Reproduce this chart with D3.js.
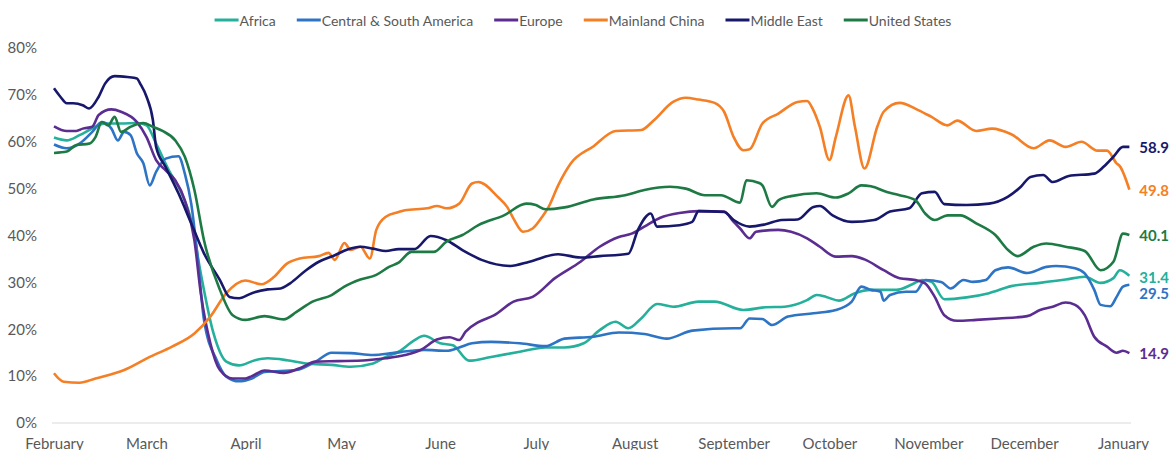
<!DOCTYPE html>
<html>
<head>
<meta charset="utf-8">
<script src="https://cdn.jsdelivr.net/npm/d3@7"></script>
<style>
  body { margin: 0; background: #fff; }
  svg text { font-family: Lato, "Open Sans", sans-serif; }
</style>
</head>
<body>
<div id="chart"></div>
<script>
// Regions, colours and axis labels
const regions = ["Africa", "Central & South America", "Europe", "Mainland China", "Middle East", "United States"];
const colors = ["#25b09b", "#2e74c5", "#5c2d91", "#f47f24", "#17186b", "#1e7a44"];
const monthLabels = ["February", "March", "April", "May", "June", "July", "August",
                     "September", "October", "November", "December", "January"];
const yTicks = [0, 10, 20, 30, 40, 50, 60, 70, 80];

// Each series: [days since 1 Feb 2020, percent]
const africa = [[0,60.9],[4,60.3],[8,61.4],[13,63.2],[16.5,63.9],[21,63.9],[26,64],[29,63.5],[32,59.6],[36,53.9],[40.5,49],[43.7,43.3],[46.8,31.9],[50,19.1],[54,13.1],[58,12.3],[63.5,13.4],[67.7,13.8],[73,13.4],[79,12.7],[87.5,12.4],[93.8,12],[100,12.7],[104,14.1],[108.4,15.2],[113.7,17.7],[116.8,18.6],[121,17],[125,16.6],[130.4,13.3],[137.7,14.1],[146,15.2],[154.4,16.1],[160.7,16.1],[166,17],[171,19.8],[176,21.6],[180.5,20.2],[184.7,22.3],[189,25.4],[194,24.8],[202,25.9],[207.7,25.9],[216,24.1],[223,24.7],[229.6,24.8],[236,26.2],[239,27.3],[242,26.9],[246,26.1],[251.5,27.7],[256.8,28.4],[264,28.4],[269,29.6],[272.4,30.5],[275.6,30.1],[279.8,26.4],[286,26.8],[293,27.7],[300.6,29.2],[309,29.9],[317.4,30.6],[323.6,31.2],[328.8,29.9],[332,30.9],[334.6,32.6],[337,31.4]];

const centralSouthAmerica = [[0,59.4],[4,58.6],[8,59.6],[12,62.1],[15,64.2],[18,62.8],[20,60.3],[22,62.1],[24,61.4],[26,57.5],[28,55.4],[30,50.7],[32,53.6],[35,56.4],[39.5,56.9],[41.6,53.2],[43.7,46.8],[45.8,35.5],[47.9,22],[51,13.4],[54,9.9],[58,8.9],[62.5,9.5],[66.7,10.9],[76,11.3],[82,13.1],[87.5,15],[93.8,14.9],[100,14.5],[106,14.9],[112.6,15.4],[116.8,15.6],[123,15.4],[127,16.1],[131.4,17],[137.7,17.3],[146,17],[154.4,16.4],[160.7,18],[169,18.4],[177,19.3],[185.7,19],[192,18],[200,19.7],[213,20.2],[215,20.2],[218,22.3],[222,22.2],[225,20.9],[230.7,22.7],[238,23.4],[245,24.1],[250.5,25.9],[253,29.1],[256.8,28.4],[259,28],[260,26.1],[262,27.3],[267,28],[270,28],[273.5,30.5],[278.7,30.1],[281,28.7],[285,30.5],[288,30.1],[292,30.5],[295.4,32.6],[299.6,33.2],[305.9,32],[311,33.3],[314,33.5],[320.5,33],[323.6,31.9],[326.8,28.4],[328.8,25.2],[331,24.9],[333,26.9],[335,29.1],[337,29.5]];

const europe = [[0,63.3],[4,62.3],[7,62.3],[9,62.8],[12,63.2],[14,65.7],[18.6,66.9],[21.7,66.4],[26,64.2],[29,61],[32,56.1],[35,53.9],[38.5,51.8],[41.6,47.5],[44.7,39],[46.8,27.7],[49,17],[52,11.3],[56,9.5],[60,9.5],[62.5,10],[66.7,11.2],[72,10.7],[77,11.7],[82,13.1],[89.6,13.2],[98,13.4],[104,13.8],[110.5,14.5],[115.7,15.6],[120,17.8],[124,18.3],[127,17.7],[129,19.5],[133.5,21.5],[138.7,23],[144,25.9],[150,26.9],[157.5,30.9],[165,34.4],[171,37.6],[177,39.7],[181.5,40.4],[185.7,41.9],[190,43.8],[196,44.8],[202,45.2],[210.8,45.1],[213,42.9],[215,41.5],[218,39.4],[220,40.8],[227.5,41.2],[231.7,40.8],[236,39.4],[240,37.6],[245,35.5],[250.5,35.6],[254.7,34.9],[260,32.6],[265,30.9],[270,30.5],[273.5,29.8],[276.6,26.9],[279.8,23],[283,21.8],[289,22],[296.5,22.3],[305,22.8],[309,24.1],[313,24.8],[317,25.7],[320.5,25.2],[323.6,23],[326.8,18.4],[330,16.3],[333,15],[335,15.4],[337,14.9]];

const mainlandChina = [[0,10.6],[3,8.8],[8,8.6],[13,9.5],[22,11.3],[30,14.1],[37,16.3],[44,19.1],[49,22.7],[54,27.7],[60,30.4],[65,29.6],[69,31.2],[73,34],[77,35.1],[83,35.6],[86.5,36.3],[88.6,34.8],[91.7,38.4],[93.8,36.9],[96,37.6],[99,35.1],[101,41.2],[104,44],[108,45],[110.5,45.4],[117,45.8],[120,46.3],[123,45.8],[127,46.8],[131,51.1],[133.5,51.4],[139,48.3],[142,46.1],[144,43.6],[147,40.8],[150,41.5],[153,44],[155,46.1],[158.6,50.7],[162.7,55.4],[169,59],[176,62.3],[184,62.5],[188,64.6],[194,68.5],[198,69.4],[202,69],[207,68.3],[210,66.4],[213,61],[216,58.2],[218,58.4],[222,63.9],[227.5,66],[233,68.5],[236,68.7],[238,66.7],[240,63.2],[243,56.1],[245,61],[249,69.9],[251.5,63.2],[254.5,54.3],[258,63.2],[260,66.4],[265,68.3],[271,66.7],[275.5,65.3],[280,63.5],[283,64.5],[289,62.3],[294,62.8],[300.6,61.6],[307,58.6],[312,60.3],[317,58.9],[322.5,60],[327,58.1],[330,58.1],[333,55.4],[334.6,54.8],[337,49.8]];

const middleEast = [[0,71.4],[2,69.6],[4,68.2],[6,68.2],[9,67.8],[11,67.1],[14,69.6],[16.5,72.4],[19,74],[23,73.8],[26,73.5],[27.5,72.4],[29.5,69.6],[31,64.6],[32.7,58.9],[35.3,54.6],[39.5,49],[43.7,42.6],[47.9,36.2],[52,30.5],[55.2,26.9],[58,26.6],[62,27.7],[67,28.5],[71,28.7],[74,29.8],[79,32.6],[83,34.4],[88,35.8],[92,37],[96,37.6],[100,37.2],[104,36.7],[108,37.1],[113,37.1],[118,39.9],[123,39],[128,36.9],[134,34.8],[143,33.5],[149,34.4],[158,36],[165,35.3],[171,35.6],[180,36.1],[183,41.2],[187,44.7],[189,41.9],[196,42.2],[200,42.9],[202,45.2],[210,45],[213,43.3],[218,41.9],[223,42.4],[228,43.3],[233,43.4],[238,46.1],[240,46.3],[244,44.3],[250,42.9],[257,43.3],[262,45.1],[268,45.8],[272,49],[276,49.3],[279,46.7],[286,46.5],[293,46.8],[299,48.3],[303,50.4],[306,52.5],[310,52.9],[313,51.4],[318,52.7],[326,53.2],[329,54.7],[332,56.8],[335,58.9],[337,58.9]];

const unitedStates = [[0,57.6],[4,57.9],[7,59.3],[11,59.6],[13,61],[15,64.2],[17,63.5],[19,65.3],[21,62.1],[24,63.2],[28,64],[31,63.2],[34,62.3],[38,60.3],[41.6,56.8],[44.7,49.7],[47.9,39],[52,28.4],[56,23],[60,22],[66.7,22.8],[72,22.1],[76,23.7],[81,25.9],[87.5,27.3],[91.7,29.1],[96,30.6],[101,31.6],[105,33.3],[108.4,34.2],[112.6,36.5],[119,36.5],[123,38.7],[128,40.1],[133.5,42.2],[141,44.3],[148,46.8],[151,46.5],[154,45.6],[160.7,46],[169,47.7],[179.5,48.6],[185.7,49.7],[193,50.4],[198,50],[204.5,48.6],[209.7,48.6],[215,47],[217.6,51.8],[221,51.2],[222,50.7],[225,46.1],[227.5,47.5],[231.7,48.4],[239,49],[245,48.1],[249.4,49],[253.6,50.7],[256.8,50.5],[261,49.3],[265,48.6],[270,47.5],[273.5,44.7],[276.6,43.3],[280.8,44.3],[284,44.3],[289,42.6],[295.4,40.1],[299.6,36.9],[302.7,35.6],[307,37.6],[311,38.3],[317.4,37.6],[323.6,36.7],[328.8,32.6],[332,34.4],[335,40.4],[337,40.1]];

const seriesValues = [africa, centralSouthAmerica, europe, mainlandChina, middleEast, unitedStates];

// vertical nudge for end labels that would overlap
const labelShift = [1, 8, 0, 0, 0, 0];

const width = 1169, height = 450;
const start = new Date(2020, 1, 1);
const dayToDate = d => d3.timeDay.offset(start, d);

const svg = d3.select("#chart").append("svg")
    .attr("width", width)
    .attr("height", height);

const x = d3.scaleTime()
    .domain([start, dayToDate(337)])
    .range([54, 54 + 337 * 3.191]);

const y = d3.scaleLinear()
    .domain([0, 80])
    .range([423, 48]);

// baseline
svg.append("line")
    .attr("x1", 52).attr("x2", 1131)
    .attr("y1", y(0)).attr("y2", y(0))
    .attr("stroke", "#d9d9d9")
    .attr("stroke-width", 1);

// y axis labels
const yAxis = svg.append("g")
    .attr("transform", "translate(40,0)")
    .call(d3.axisLeft(y).tickValues(yTicks).tickSize(0).tickPadding(3).tickFormat(d => d + "%"));
yAxis.select(".domain").remove();
yAxis.selectAll("text").style("font-size", "15px").attr("fill", "#595959");

// x axis labels at the start of each month
const monthDates = monthLabels.map((m, i) => d3.timeMonth.offset(start, i));
const xAxis = svg.append("g")
    .attr("transform", `translate(0,${y(0)})`)
    .call(d3.axisBottom(x).tickValues(monthDates).tickSize(0).tickPadding(15)
        .tickFormat((d, i) => monthLabels[i]));
xAxis.select(".domain").remove();
xAxis.selectAll("text").style("font-size", "15px").attr("fill", "#595959");

// lines
const line = d3.line()
    .x(d => x(dayToDate(d[0])))
    .y(d => y(d[1]))
    .curve(d3.curveMonotoneX);

svg.selectAll("path.series")
    .data(seriesValues)
    .enter()
    .append("path")
    .attr("class", "series")
    .attr("d", line)
    .attr("fill", "none")
    .attr("stroke", (d, i) => colors[i])
    .attr("stroke-width", 2.6)
    .attr("stroke-linejoin", "round");

// end labels
svg.selectAll("text.endlabel")
    .data(seriesValues)
    .enter()
    .append("text")
    .attr("class", "endlabel")
    .attr("x", d => x(dayToDate(d[d.length - 1][0])) + 10)
    .attr("y", (d, i) => y(d[d.length - 1][1]) + labelShift[i])
    .attr("dominant-baseline", "central")
    .style("font-size", "15px")
    .style("font-weight", "bold")
    .attr("fill", (d, i) => colors[i])
    .text(d => d[d.length - 1][1].toFixed(1));

// legend, centred above the chart
const legend = svg.append("g").attr("transform", "translate(0,20)");
let offset = 0;
regions.forEach((name, i) => {
    const item = legend.append("g").attr("transform", `translate(${offset},0)`);
    item.append("line")
        .attr("x1", 0).attr("x2", 24)
        .attr("stroke", colors[i])
        .attr("stroke-width", 3);
    const t = item.append("text")
        .attr("x", 25)
        .attr("dominant-baseline", "central")
        .style("font-size", "14px")
        .attr("fill", "#595959")
        .text(name);
    offset += 25 + t.node().getComputedTextLength() + 21;
});
const legendWidth = offset - 21;
legend.attr("transform", `translate(${583 - legendWidth / 2},20)`);
</script>
</body>
</html>
